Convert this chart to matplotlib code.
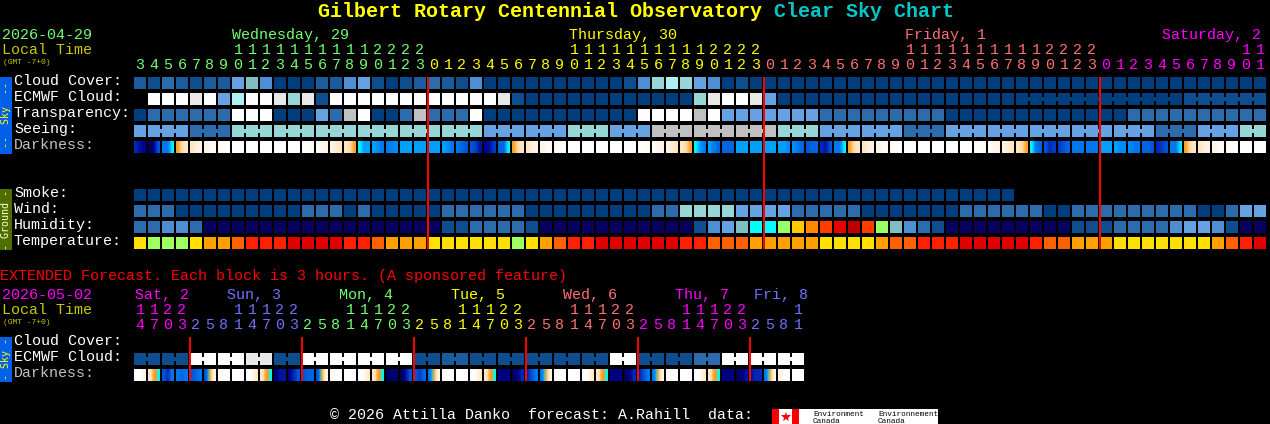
import numpy as np
import matplotlib
matplotlib.use("Agg")
import matplotlib.pyplot as plt
from matplotlib.colors import LinearSegmentedColormap
from matplotlib.patches import Rectangle

# Hour labels, one per block
hours_wed = [3, 4, 5, 6, 7, 8, 9, 10, 11, 12, 13, 14, 15, 16, 17, 18, 19, 20, 21, 22, 23]
hours_thu = [0, 1, 2, 3, 4, 5, 6, 7, 8, 9, 10, 11, 12, 13, 14, 15, 16, 17, 18, 19, 20, 21, 22, 23]
hours_fri = [0, 1, 2, 3, 4, 5, 6, 7, 8, 9, 10, 11, 12, 13, 14, 15, 16, 17, 18, 19, 20, 21, 22, 23]
hours_sat = [0, 1, 2, 3, 4, 5, 6, 7, 8, 9, 10, 11]

# Extended forecast hour labels
ext_sat = [14, 17, 20, 23]
ext_sun = [2, 5, 8, 11, 14, 17, 20, 23]
ext_mon = [2, 5, 8, 11, 14, 17, 20, 23]
ext_tue = [2, 5, 8, 11, 14, 17, 20, 23]
ext_wed = [2, 5, 8, 11, 14, 17, 20, 23]
ext_thu = [2, 5, 8, 11, 14, 17, 20, 23]
ext_fri = [2, 5, 8, 11]

# Sky rows, index into sky_colors. -1 is no data
cloud_cover = [2, 1, 3, 2, 1, 2, 2, 5, 6, 4, 0, 0, 0, 2, 2, 4, 5, 1, 0, 1, 2,
               3, 2, 1, 4, 0, 0, 0, 0, 0, 0, 0, 0, 0, 0, 1, 4, 7, 8, 7, 5, 4, 0, 1, 0,
               0, 0, 0, 0, 0, 0, 0, 0, 0, 0, 0, 0, 0, 0, 0, 0, 0, 0, 0, 0, 0, 0, 0, 0,
               0, 0, 0, 0, 0, 0, 0, 0, 0, 0, 0, 0]
ecmwf_cloud = [-1, 9, 9, 9, 10, 9, 5, 8, 9, 9, 10, 7, 10, 1, 9, 9, 9, 9, 9, 9, 9,
               9, 9, 9, 9, 9, 10, 1, 0, 0, 0, 0, 0, 0, 0, 0, 0, 0, 0, 0, 7, 10, 9, 9, 10,
               5, 0, 0, 0, 0, 0, 0, 0, 0, 0, 0, 0, 0, 0, 0, 0, 0, 0, 0, 0, 0, 0, 0, 0,
               0, 0, 0, 0, 0, 0, 1, 1, 1, 1, 1, 1]
transparency = [0, 3, 3, 3, 3, 3, 3, 9, 9, 9, 0, 0, 0, 5, 3, 11, 9, 0, 0, 3, 11,
                3, 3, 3, 9, 0, 0, 0, 0, 0, 0, 0, 0, 0, 0, 0, 9, 9, 9, 9, 11, 9, 5, 5, 5,
                5, 5, 5, 5, 3, 3, 3, 3, 3, 3, 3, 3, 3, 0, 0, 0, 0, 0, 0, 0, 0, 0, 0, 0,
                0, 0, 3, 3, 3, 3, 3, 3, 3, 3, 3, 3]
seeing = [5, 5, 5, 5, 3, 3, 3, 7, 7, 7, 7, 7, 7, 7, 7, 7, 7, 7, 7, 7, 7,
          7, 7, 7, 7, 5, 5, 5, 5, 5, 5, 7, 7, 7, 5, 5, 5, 11, 11, 11, 11, 11, 11, 11, 11,
          11, 7, 7, 7, 5, 5, 5, 5, 5, 5, 3, 3, 3, 5, 5, 5, 5, 5, 5, 5, 5, 5, 5, 5, 5,
          5, 5, 5, 3, 3, 3, 5, 5, 5, 7, 7][:81]
smoke = [0, 0, 0, 0, 0, 0, 0, 0, 0, 0, 0, 0, 0, 0, 0, 0, 0, 0, 0, 0, 0,
         0, 0, 0, 0, 0, 0, 0, 0, 0, 0, 0, 0, 0, 0, 0, 0, 0, 0, 0, 0, 0, 0, 0, 0,
         0, 0, 0, 0, 0, 0, 0, 0, 0, 0, 0, 0, 0, 0, 0, 0, 0, 0]
wind = [3, 3, 3, 0, 0, 0, 0, 0, 0, 0, 0, 0, 3, 3, 3, 0, 3, 0, 0, 0, 0,
        0, 3, 3, 3, 3, 3, 3, 0, 0, 0, 0, 0, 0, 0, 0, 0, 3, 3, 7, 7, 7, 7, 5, 5,
        5, 5, 3, 3, 3, 3, 3, 0, 0, 0, 0, 0, 0, 0, 3, 3, 3, 3, 3, 3, 0, 0, 3, 3,
        3, 3, 3, 3, 3, 3, 3, 0, 0, 3, 5, 5]

# Humidity and temperature, index into their own colour lists
humidity = [3, 3, 4, 4, 3, 12, 12, 12, 12, 12, 12, 12, 12, 12, 12, 12, 12, 12, 12, 12, 12,
            12, 1, 1, 3, 3, 3, 3, 1, 12, 12, 12, 12, 12, 12, 12, 12, 12, 12, 12, 1, 4, 5, 6, 13,
            13, 14, 15, 16, 17, 18, 19, 17, 14, 6, 4, 3, 1, 12, 12, 12, 12, 12, 12, 12, 12, 12, 1, 1,
            1, 3, 3, 3, 3, 4, 5, 5, 4, 1, 12, 12]
temperature = [0, 1, 1, 1, 0, 2, 2, 3, 4, 4, 4, 5, 5, 5, 5, 4, 4, 3, 2, 2, 2,
               0, 0, 0, 0, 0, 0, 1, 0, 2, 3, 4, 4, 5, 5, 5, 5, 5, 5, 4, 4, 3, 3, 3, 2,
               2, 2, 2, 2, 0, 0, 0, 0, 2, 3, 3, 4, 4, 4, 5, 5, 5, 5, 5, 4, 3, 3, 2, 2,
               2, 0, 0, 0, 0, 0, 0, 0, 2, 3, 4, 5]

# Darkness, samples across each block. 0 is daylight, 10 is the darkest
darkness = [(8, 8.6, 9), (10, 9, 7), (6, 6, 3.6), (3, 2, 1.5), (1.6, 1.2, 1), (1, .6, .4), (.4, .2, 0),
            (0, 0, 0), (0, 0, 0), (0, 0, 0), (0, 0, 0), (0, 0, 0), (0, .1, .3), (.3, .7, 1),
            (1, 1.3, 1.6), (1.6, 2, 3), (3.6, 5, 5), (5, 5.5, 6), (6, 5.7, 5.5), (5, 5, 5), (5, 5, 5),
            (5, 5, 5), (5, 5.5, 6), (6, 6.5, 7), (7, 7.5, 8.5), (9, 8.5, 7.5), (6.5, 6.5, 3.6),
            (3, 2, 1.5), (1.6, 1.2, 1), (1, .6, .4), (.4, .2, 0), (0, 0, 0), (0, 0, 0), (0, 0, 0),
            (0, 0, 0), (0, 0, 0), (0, .1, .3), (.3, .7, 1), (1, 1.3, 1.6), (1.6, 2, 3), (3.6, 5, 6),
            (5, 6, 6.5), (6.5, 6.5, 6.5), (5, 5, 5), (5, 5, 5),
            (5, 5, 5), (5, 5, 5.5), (5.5, 6, 6.5), (7, 6.5, 6.5), (8, 8.5, 7), (6, 6, 3.6),
            (3, 2, 1.5), (1.6, 1.2, 1), (1, .6, .4), (.4, .2, 0), (0, 0, 0), (0, 0, 0), (0, 0, 0),
            (0, 0, 0), (0, 0, 0), (0, .1, .3), (.3, .7, 1), (1, 1.3, 1.6), (1.6, 2, 3), (3.6, 6, 6.5),
            (7, 8, 7.5), (7.5, 7, 6.5), (6, 6, 6), (6, 6, 6),
            (5, 5, 5), (5, 5.5, 5.5), (5.5, 6, 6), (6.5, 6.5, 7), (8, 7.5, 7), (6, 6, 3.8),
            (3, 2, 1.5), (1.6, 1.2, 1), (1, .6, .4), (.4, .2, 0), (0, 0, 0), (0, 0, 0)]

# Extended ECMWF, two blocks per value
ext_ecmwf = [1, 1, 9, 9, 10, 1, 9, 9, 9, 9, 1, 2, 1, 1, 1, 1, 1, 9, 1, 1, 3, 9, 9, 9]
ext_darkness = [(0, 0, 1), (1.5, 3, 3.6), (7, 8, 6), (6, 6.5, 6), (7, 6.5, 6), (7, 3, 1), (.4, .1, .1), (0, 0, 0),
                (0, .5, 1.5), (1.5, 3, 3.6), (9.5, 8.5, 8.5), (9, 8, 7), (7, 6.5, 6.5), (7, 3, 1), (.4, .1, 0), (0, 0, 0),
                (0, .5, 1.5), (1.5, 3, 3.6), (10, 9.5, 9.5), (10, 8.5, 7), (7, 7.5, 6.5), (6, 3, 1), (.4, .1, 0), (0, 0, 0),
                (0, .5, 1.5), (1.5, 3, 3.6), (9, 9.5, 9), (10, 9, 8), (8, 7, 6), (6, 3, 1), (.4, .1, 0), (0, 0, 0),
                (0, .5, 1.5), (1.5, 3, 3.6), (9, 9.5, 9), (10, 9, 8), (8, 7, 6), (6, 3, 1), (.4, .1, 0), (0, 0, 0),
                (0, .5, 1.5), (1.5, 3, 3.6), (9, 9.5, 9), (10, 9.5, 8.5), (8.5, 8, 8), (6, 3, 1), (1, .2, 0), (0, 0, 0)]

# Colours
sky_colors = ["#003e7e", "#0e4e8e", "#1a5c9e", "#2c6cad", "#4d8fd3", "#64a2e4",
              "#7fbfbf", "#96d6d6", "#aef0f0", "#fefefe", "#e8e8e8", "#c0c0c0"]
humid_colors = sky_colors + ["#08005e", "#00ffff", "#99ff66", "#ffc800", "#ff8800",
                             "#ff3c00", "#e60000", "#be0000"]
temp_colors = ["#ffe000", "#a0ff60", "#ffa000", "#ff6000", "#ff2000", "#e00000"]
green = "#70ff70"
yellow = "#ffff00"
salmon = "#ff7070"
magenta = "#ff00ff"
blue = "#7070ff"
olive = "#c8c800"
dark_stops = [(0, "#ffffff"), (1, "#fff4e4"), (2, "#ffddaa"), (3, "#ffa030"), (3.5, "#ff9820"),
              (3.51, "#00ffee"), (4, "#00d8ff"), (5, "#00a0ff"), (6, "#0078f0"), (7, "#0054d8"),
              (8, "#0028b8"), (9, "#000090"), (10, "#000058")]
dark_cmap = LinearSegmentedColormap.from_list("dark", [(v / 10, c) for v, c in dark_stops], N=1024)

plt.rcParams["font.family"] = ["Liberation Mono", "DejaVu Sans Mono"]

fig = plt.figure(figsize=(12.7, 4.24), dpi=100, facecolor="black")
ax = fig.add_axes([0, 0, 1, 1])
ax.set_axis_off()

X0 = 134
PITCH = 14
CELL = 12
FS = 10.8


def box(x, y, w, h, color, zorder=2):
    ax.add_patch(Rectangle((x, y), w, h, facecolor=color, edgecolor="none",
                           antialiased=False, zorder=zorder))


def draw_row(values, y, colors, bridges=()):
    for i, v in enumerate(values):
        if v >= 0:
            box(X0 + i * PITCH, y, CELL, CELL, colors[v])
    for i in bridges:
        box(X0 + i * PITCH + CELL, y + 4, PITCH - CELL, 4, colors[values[i]])


def draw_dark(values, y):
    for i, samples in enumerate(values):
        x = X0 + i * PITCH
        ax.imshow(np.array([samples], dtype=float), cmap=dark_cmap, vmin=0, vmax=10,
                  extent=(x, x + CELL, y + CELL, y), aspect="auto",
                  interpolation="bilinear", interpolation_stage="data", zorder=2)


def label(x, y, s, color="white", size=FS, **kw):
    # anti-aliased text lands a pixel low, so pull it back up
    ax.text(x, y - 1, s, color=color, fontsize=size, va="baseline", **kw)


def side_text(y, s, color):
    ax.text(6, y, s, color=color, fontsize=7.2, rotation=90, ha="center", va="center",
            family="DejaVu Sans Mono")


def hour_labels(groups, tens_y, units_y):
    col = 0
    for hours, color in groups:
        for h in hours:
            cx = X0 + col * PITCH + CELL / 2
            if h >= 10:
                label(cx, tens_y, str(h // 10), color, ha="center")
            label(cx, units_y, str(h % 10), color, ha="center")
            col += 1


# Title
label(318, 18, "Gilbert Rotary Centennial Observatory", yellow, 14.4, fontweight="bold")
label(774, 18, "Clear Sky Chart", "#00c8c8", 14.4, fontweight="bold")

# Header
label(2, 40, "2026-04-29", green)
label(2, 55, "Local Time", olive)
label(3, 65, "(GMT -7+0)", olive, 5.8)
label(232, 40, "Wednesday, 29", green)
label(569, 40, "Thursday, 30", yellow)
label(905, 40, "Friday, 1", salmon)
label(1162, 40, "Saturday, 2", magenta)
hour_labels([(hours_wed, green), (hours_thu, yellow), (hours_fri, salmon), (hours_sat, magenta)], 55, 70)

# Side bars
box(0, 77, 12, 77, "#0060e8")
box(0, 189, 12, 61, "#506e00")
box(0, 337, 12, 45, "#0060e8")
side_text(115.5, "--  Sky  --", yellow)
side_text(219.5, "- Ground -", "#ffffd0")
side_text(359.5, "- Sky -", yellow)

# Row names
for name, y, color in [("Cloud Cover:", 86, "white"), ("ECMWF Cloud:", 102, "white"),
                       ("Transparency:", 118, "white"), ("Seeing:", 134, "white"),
                       ("Darkness:", 150, "#c0c0c0"), ("Smoke:", 198, "white"),
                       ("Wind:", 214, "white"), ("Humidity:", 230, "white"),
                       ("Temperature:", 246, "white"), ("Cloud Cover:", 346, "white"),
                       ("ECMWF Cloud:", 362, "white"), ("Darkness:", 378, "#c0c0c0")]:
    label(14, y, name, color)

# Main grid
draw_row(cloud_cover, 77, sky_colors)
draw_row(ecmwf_cloud, 93, sky_colors,
         [i for i in range(63, 80) if ecmwf_cloud[i] == ecmwf_cloud[i + 1]])
draw_row(transparency, 109, sky_colors)
draw_row(seeing, 125, sky_colors, [i for i in range(1, 80) if (i - 1) % 3 != 2])
draw_dark(darkness, 141)
draw_row(smoke, 189, sky_colors)
draw_row(wind, 205, sky_colors)
draw_row(humidity, 221, humid_colors)
draw_row(temperature, 237, temp_colors)

# Midnight lines
for col in [21, 45, 69]:
    box(X0 + col * PITCH - 1, 77, 2, 172, "#ff0000", zorder=4)

# Extended forecast
label(0, 281, "EXTENDED Forecast. Each block is 3 hours. (A sponsored feature)", "#ff0000")
label(2, 300, "2026-05-02", magenta)
label(2, 315, "Local Time", olive)
label(3, 325, "(GMT -7+0)", olive, 5.8)
label(135, 300, "Sat, 2", magenta)
label(227, 300, "Sun, 3", blue)
label(339, 300, "Mon, 4", green)
label(451, 300, "Tue, 5", yellow)
label(563, 300, "Wed, 6", salmon)
label(675, 300, "Thu, 7", magenta)
label(754, 300, "Fri, 8", blue)
hour_labels([(ext_sat, magenta), (ext_sun, blue), (ext_mon, green), (ext_tue, yellow),
             (ext_wed, salmon), (ext_thu, magenta), (ext_fri, blue)], 315, 330)

draw_row(np.repeat(ext_ecmwf, 2), 353, sky_colors, range(0, 48, 2))
draw_dark(ext_darkness, 369)
for col in [4, 12, 20, 28, 36, 44]:
    box(X0 + col * PITCH - 1, 337, 2, 44, "#ff0000", zorder=4)

# Footer and logo
label(330, 420, "\u00a9 2026 Attilla Danko  forecast: A.Rahill  data:", "white")
box(772, 409, 166, 15, "white")
box(772, 409, 7, 15, "#ff0000", zorder=3)
box(792, 409, 7, 15, "#ff0000", zorder=3)
ax.plot([785.5], [416.5], marker="*", markersize=7, color="#ff0000", markeredgewidth=0, zorder=3)
for x, word in [(813, "Environment"), (878, "Environnement")]:
    ax.text(x, 415.5, word, color="black", fontsize=5.6, va="baseline", zorder=3)
    ax.text(x, 423, "Canada", color="black", fontsize=5.6, va="baseline", zorder=3)

ax.set_xlim(0, 1270)
ax.set_ylim(424, 0)
fig.savefig("out.png", dpi=100, facecolor="black")
